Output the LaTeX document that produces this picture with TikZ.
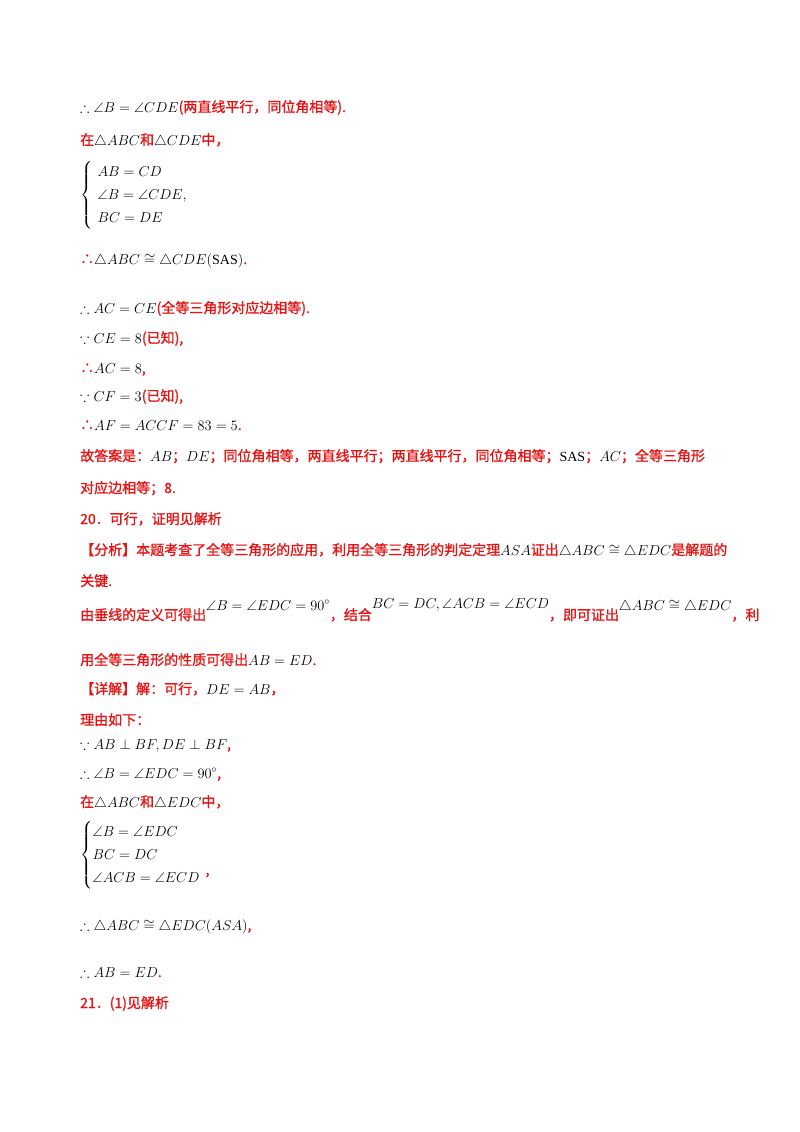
\documentclass[tikz,border=0pt]{standalone}
\usepackage{amssymb}
\usepackage{fontspec}
\setmainfont{Liberation Serif}
\newfontfamily\cjk[FakeBold=1.2]{Noto Sans CJK SC}
\definecolor{rd}{RGB}{230,20,20}
\newcommand\mk[1]{{\color{black}$#1$}}
\newcommand\R[1]{{\color{rd}\cjk #1}}
\begin{document}
\begin{tikzpicture}[x=1pt,y=1pt,
  ln/.style={anchor=base west,inner sep=0,font=\fontsize{14}{17}\selectfont,text=rd},
  sys/.style={anchor=west,inner sep=0,font=\fontsize{14}{17}\selectfont\renewcommand\arraystretch{1.35},text=black}]
\useasboundingbox (0,0) rectangle (800,-1132);
\fill[white] (0,0) rectangle (800,-1132);
\node[ln] (l1) at (80,-112) {\mk{\therefore\angle B=\angle CDE}\R{(两直线平行，同位角相等).}};
\node[ln] (l2) at (80,-145) {\R{在}\mk{\triangle ABC}\R{和}\mk{\triangle CDE}\R{中，}};
\node[sys] (l3) at (80,-195) {$\left\{\begin{array}{l}AB=CD\\ \angle B=\angle CDE,\\ BC=DE\end{array}\right.$};
\node[ln] (l4) at (80,-264) {\R{∴}\mk{\triangle ABC\cong\triangle CDE(\mathrm{SAS})}\R{.}};
\node[ln] (l5) at (80,-313) {\mk{\therefore AC=CE}\R{(全等三角形对应边相等).}};
\node[ln] (l6) at (80,-343) {\mk{\because CE=8}\R{(已知),}};
\node[ln] (l7) at (80,-373) {\R{∴}\mk{AC=8}\R{,}};
\node[ln] (l8) at (80,-401) {\mk{\because CF=3}\R{(已知),}};
\node[ln] (l9) at (80,-430) {\R{∴}\mk{AF=ACCF=83=5}\R{.}};
\node[ln] (l10) at (80,-461) {\R{故答案是：}\mk{AB}\R{；}\mk{DE}\R{；同位角相等，两直线平行；两直线平行，同位角相等；}\mk{\mathrm{SAS}}\R{；}\mk{AC}\R{；全等三角形}};
\node[ln] (l11) at (80,-493) {\R{对应边相等；8.}};
\node[ln] (l12) at (80,-524) {\R{20．可行，证明见解析}};
\node[ln] (l13) at (80,-555) {\R{【分析】本题考查了全等三角形的应用，利用全等三角形的判定定理}\mk{ASA}\R{证出}\mk{\triangle ABC\cong\triangle EDC}\R{是解题的}};
\node[ln] (l14) at (80,-586) {\R{关键.}};
\node[ln] (l15) at (80,-620) {\R{由垂线的定义可得出}\raisebox{10pt}{\mk{\angle B=\angle EDC=90^\circ}}\R{，结合}\raisebox{12pt}{\mk{BC=DC,\angle ACB=\angle ECD}}\R{，即可证出}\raisebox{10pt}{\mk{\triangle ABC\cong\triangle EDC}}\R{，利}};
\node[ln] (l16) at (80,-665) {\R{用全等三角形的性质可得出}\mk{AB=ED}\R{.}};
\node[ln] (l17) at (80,-694) {\R{【详解】解：可行，}\mk{DE=AB}\R{，}};
\node[ln] (l18) at (80,-725) {\R{理由如下：}};
\node[ln] (l19) at (80,-749) {\mk{\because AB\perp BF, DE\perp BF}\R{,}};
\node[ln] (l20) at (80,-778) {\mk{\therefore\angle B=\angle EDC=90^\circ}\R{,}};
\node[ln] (l21) at (80,-807) {\R{在}\mk{\triangle ABC}\R{和}\mk{\triangle EDC}\R{中，}};
\node[sys] (l22) at (80,-855) {$\left\{\begin{array}{@{}l}\angle B=\angle EDC\\ BC=DC\\ \angle ACB=\angle ECD\end{array}\right.$\raisebox{-16pt}{\R{,}}};
\node[ln] (l23) at (80,-930) {\mk{\therefore\triangle ABC\cong\triangle EDC(ASA)}\R{,}};
\node[ln] (l24) at (80,-977) {\mk{\therefore AB=ED}\R{.}};
\node[ln] (l25) at (80,-1008) {\R{21．(1)见解析}};
\end{tikzpicture}
\end{document}
